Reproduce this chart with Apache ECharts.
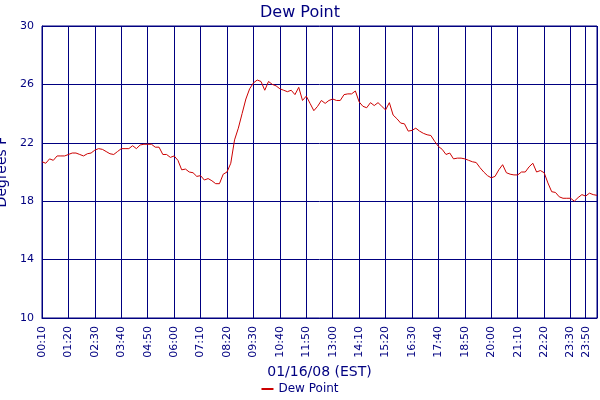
<!DOCTYPE html>
<html>
<head>
<meta charset="utf-8">
<script src="https://cdn.jsdelivr.net/npm/echarts@6/dist/echarts.min.js"></script>
<style>html,body{margin:0;padding:0;background:#fff}#chart{width:600px;height:400px}</style>
</head>
<body>
<div id="chart"></div>
<script>
// tick labels and the point index where each sits
var tickLabels = ['00:10','01:20','02:30','03:40','04:50','06:00','07:10','08:20','09:30','10:40','11:50','13:00','14:10','15:20','16:30','17:40','18:50','20:00','21:10','22:20','23:30','23:50'];
var tickIndex = [0,7,14,21,28,35,42,49,56,63,70,77,84,91,98,105,112,119,126,133,140,144,147];
// dew point readings, degrees F
var dewPoint = [
	20.7,20.6,20.9,20.8,21.1,21.1,21.1,21.2,21.3,21.3,
	21.2,21.1,21.25,21.3,21.5,21.6,21.55,21.4,21.25,21.2,
	21.4,21.6,21.6,21.6,21.8,21.6,21.85,21.9,21.9,21.9,
	21.7,21.7,21.2,21.2,21.0,21.1,20.8,20.15,20.2,20.0,
	19.95,19.7,19.75,19.45,19.55,19.4,19.2,19.2,19.85,20.0,
	20.6,22.2,23.0,24.0,25.0,25.7,26.1,26.3,26.2,25.6,
	26.2,26.0,25.9,25.7,25.6,25.5,25.6,25.3,25.8,24.9,
	25.2,24.7,24.2,24.5,24.9,24.7,24.9,25.0,24.9,24.9,
	25.3,25.35,25.35,25.55,24.8,24.5,24.4,24.75,24.55,24.75,
	24.5,24.25,24.75,23.9,23.65,23.35,23.3,22.8,22.85,23.0,
	22.8,22.65,22.55,22.5,22.1,21.75,21.55,21.2,21.3,20.9,
	20.95,20.95,20.9,20.8,20.7,20.65,20.3,20.0,19.75,19.6,
	19.7,20.15,20.5,19.95,19.85,19.8,19.8,20.0,20.0,20.35,
	20.6,20.0,20.1,19.95,19.25,18.65,18.6,18.3,18.2,18.2,
	18.2,18.0,18.25,18.45,18.35,18.55,18.45,18.4
];

var categories = [];
for (var i = 0; i < dewPoint.length; i++) categories.push(String(i));
var showTick = function (idx) { return tickIndex.indexOf(idx) >= 0; };

var navy = '#000080';
var chart = echarts.init(document.getElementById('chart'));
chart.setOption({
	animation: false,
	textStyle: { fontFamily: 'DejaVu Sans' },
	title: {
		text: 'Dew Point', left: 'center', top: 0,
		textStyle: { color: navy, fontSize: 16, fontWeight: 'normal', fontFamily: 'DejaVu Sans' }
	},
	legend: {
		bottom: 0, left: 'center', itemWidth: 12, itemHeight: 2, icon: 'rect',
		textStyle: { color: navy, fontSize: 12 },
		data: ['Dew Point']
	},
	grid: {
		left: 42, right: 3, top: 26, bottom: 82, containLabel: false, outerBoundsMode: 'none',
		show: true, borderColor: navy, borderWidth: 1
	},
	xAxis: {
		type: 'category', data: categories, boundaryGap: false,
		name: '01/16/08 (EST)', nameLocation: 'middle', nameGap: 44,
		nameTextStyle: { color: navy, fontSize: 14 },
		axisLine: { lineStyle: { color: navy } },
		axisTick: { show: false },
		axisLabel: {
			interval: function (idx) { return showTick(idx); },
			hideOverlap: false,
			rotate: 90, color: navy, fontSize: 11,
			formatter: function (v, idx) { var k = tickIndex.indexOf(Number(v)); return k >= 0 ? tickLabels[k] : ''; }
		},
		splitLine: { show: true, interval: function (idx) { return showTick(idx); }, lineStyle: { color: navy, width: 1 } }
	},
	yAxis: {
		type: 'value', min: 10, max: 30, interval: 4,
		name: 'Degrees F', nameLocation: 'middle', nameGap: 28,
		nameTextStyle: { color: navy, fontSize: 14 },
		axisLine: { show: true, lineStyle: { color: navy } },
		axisTick: { show: false },
		axisLabel: { color: navy, fontSize: 11 },
		splitLine: { lineStyle: { color: navy, width: 1 } }
	},
	series: [{
		name: 'Dew Point', type: 'line', data: dewPoint,
		showSymbol: false, color: '#cc0000', lineStyle: { width: 1 }
	}]
});
</script>
</body>
</html>
